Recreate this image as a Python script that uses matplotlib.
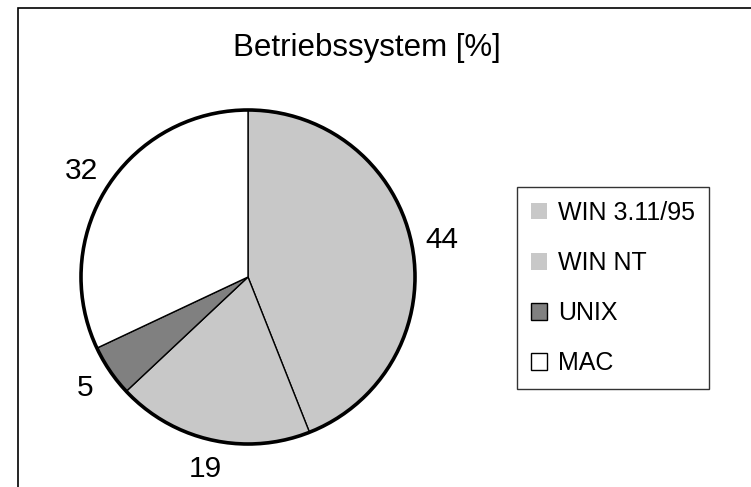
import matplotlib.pyplot as plt
import matplotlib as mpl
from matplotlib.patches import Patch, Circle, Rectangle
import numpy as np

mpl.rcParams['font.family'] = ['Liberation Sans', 'DejaVu Sans']

systems = ["WIN 3.11/95", "WIN NT", "UNIX", "MAC"]
shares = [44, 19, 5, 32]
colors = ["#c8c8c8", "#c8c8c8", "#808080", "#ffffff"]
legend_edges = ["none", "none", "black", "black"]

W, H = 751, 487
fig = plt.figure(figsize=(W / 100, H / 100), dpi=100)

# outer chart frame (cut off at right and bottom like the original)
fig.add_artist(Rectangle((18 / W, -0.1), 1.2, 1.1 - 8 / H,
                         transform=fig.transFigure, fill=False,
                         edgecolor='black', linewidth=1.2))

cx, cy, r = 248, H - 277, 167
ax = fig.add_axes([(cx - r) / W, (cy - r) / H, 2 * r / W, 2 * r / H])
wedges, _ = ax.pie(shares, colors=colors, startangle=90, counterclock=False,
                   wedgeprops={'edgecolor': 'black', 'linewidth': 1.0})
ax.add_patch(Circle((0, 0), 1, fill=False, edgecolor='black',
                    linewidth=2.6, clip_on=False, zorder=5))
ax.set_xlim(-1, 1)
ax.set_ylim(-1, 1)
ax.axis('off')

for w, val in zip(wedges, shares):
    mid = np.deg2rad((w.theta1 + w.theta2) / 2)
    ax.text(1.18 * np.cos(mid), 1.18 * np.sin(mid), str(val),
            ha='center', va='center', fontsize=21.5, clip_on=False)

fig.text(367 / W, 1 - 48 / H, "Betriebssystem [%]", ha='center',
         va='center', fontsize=22.5)

handles = [Patch(facecolor=c, edgecolor=e, linewidth=1.0)
           for c, e in zip(colors, legend_edges)]
leg = fig.legend(handles, systems, loc='upper left',
                 bbox_to_anchor=(517 / W, 1 - 187 / H), fontsize=18,
                 frameon=True, fancybox=False, handlelength=0.65,
                 handleheight=0.65, handletextpad=0.45, labelspacing=1.05,
                 borderpad=0.55, borderaxespad=0)
leg.get_frame().set_edgecolor('black')
leg.get_frame().set_linewidth(1.0)

fig.savefig("out.png", dpi=100)
